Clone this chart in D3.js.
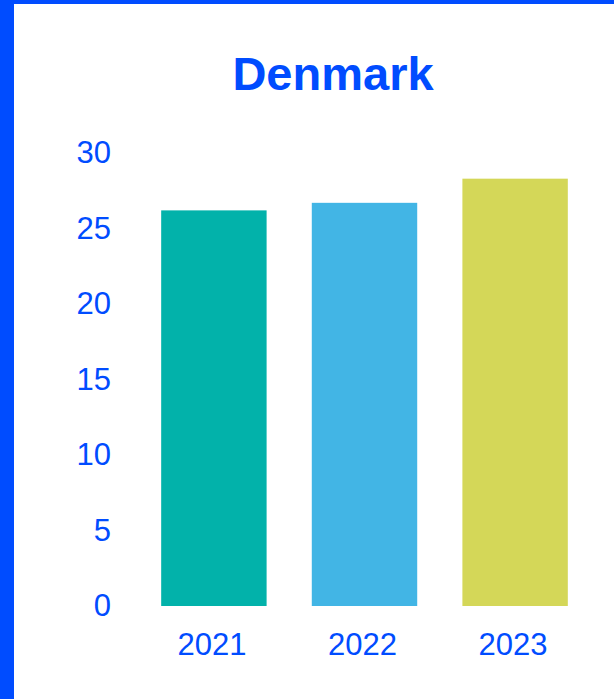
<!DOCTYPE html>
<html>
<head>
<meta charset="utf-8">
<script src="https://cdn.jsdelivr.net/npm/d3@7"></script>
<style>
  html, body { margin: 0; padding: 0; background: #fff; }
  svg { display: block; font-family: "Liberation Sans", Arial, sans-serif; }
</style>
</head>
<body>
<svg id="chart" width="614" height="699"></svg>
<script>
/* Denmark – single-country bar chart */

const title   = "Denmark";
const years   = ["2021", "2022", "2023"];
const values  = [26.2, 26.7, 28.3];
const colours = ["#02b2aa", "#42b5e5", "#d4d758"];
const yTicks  = [0, 5, 10, 15, 20, 25, 30];

const W = 614, H = 699;
const blue = "#004cff";

const svg = d3.select("#chart");

/* -- frame: blue strips on the left and top --------------------------- */
svg.append("rect").attr("x", 0).attr("y", 0).attr("width", W).attr("height", 4).attr("fill", blue);
svg.append("rect").attr("x", 0).attr("y", 0).attr("width", 14).attr("height", H).attr("fill", blue);

/* -- scales -------------------------------------------------------------- */
const x = d3.scaleBand().domain(years).range([116, 613]).padding(0.3);
const y = d3.scaleLinear().domain([0, 30]).range([606, 153]);

/* -- title ---------------------------------------------------------------- */
svg.append("text")
    .attr("x", 333).attr("y", 90)
    .attr("text-anchor", "middle")
    .attr("font-size", 47).attr("font-weight", "bold")
    .attr("fill", blue)
    .text(title);

/* -- bars ----------------------------------------------------------------- */
svg.selectAll("rect.bar")
  .data(years)
  .enter().append("rect")
    .attr("class", "bar")
    .attr("x", d => x(d))
    .attr("width", x.bandwidth())
    .attr("y", (d, i) => y(values[i]))
    .attr("height", (d, i) => y(0) - y(values[i]))
    .attr("fill", (d, i) => colours[i]);

/* -- axes (labels only, no lines) ---------------------------------------- */
const yAxis = svg.append("g")
    .attr("transform", "translate(111,0)")
    .call(d3.axisLeft(y).tickValues(yTicks).tickSize(0).tickPadding(0));

const xAxis = svg.append("g")
    .attr("transform", "translate(0,633)")
    .call(d3.axisBottom(x).tickSize(0).tickPadding(0));

[yAxis, xAxis].forEach(g => {
  g.select(".domain").remove();
  g.selectAll("text")
    .attr("font-size", 31)
    .attr("font-family", "'Liberation Sans', Arial, sans-serif")
    .attr("fill", blue);
});
xAxis.selectAll("text").attr("dy", "0.71em").attr("x", -2);
</script>
</body>
</html>
